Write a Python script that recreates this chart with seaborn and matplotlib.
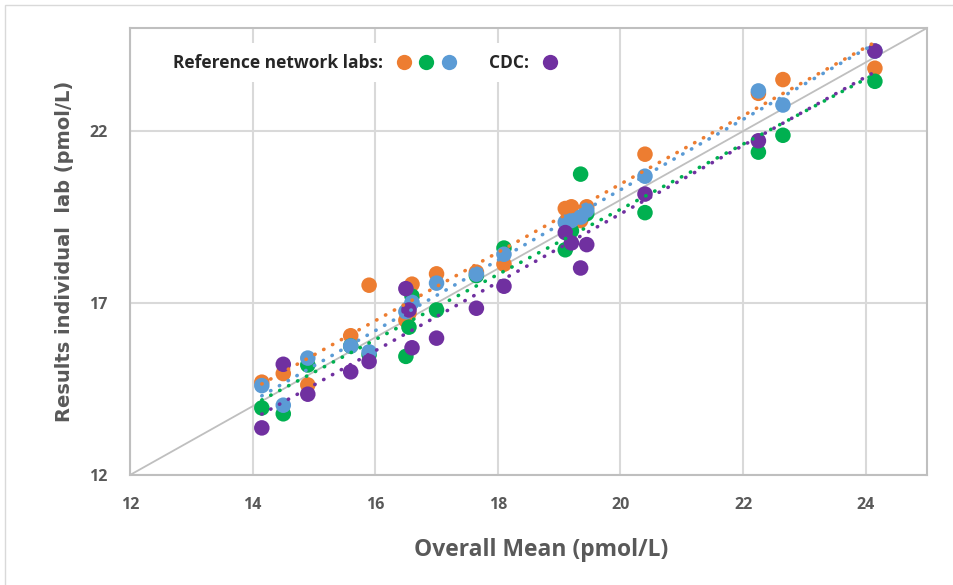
import numpy as np
import pandas as pd
import matplotlib
matplotlib.use("Agg")
import matplotlib.pyplot as plt
import seaborn as sns
from matplotlib.lines import Line2D
from matplotlib.legend_handler import HandlerTuple
from matplotlib.patches import Rectangle

# overall mean of each sample (x) and the individual lab results (y)
overall_mean = [14.15, 14.5, 14.9, 15.6, 15.9, 16.5, 16.55, 16.6, 17.0, 17.65,
                18.1, 19.1, 19.2, 19.35, 19.45, 20.4, 22.25, 22.65, 24.15]
lab_orange = [14.7, 14.95, 14.62, 16.05, 17.52, 16.5, 16.7, 17.55, 17.85, 17.9,
              18.13, 19.75, 19.8, 19.4, 19.8, 21.33, 23.1, 23.5, 23.83]
lab_green = [13.95, 13.78, 15.2, 15.75, 15.5, 15.45, 16.3, 17.2, 16.8, 17.8,
             18.6, 18.55, 19.1, 20.75, 19.6, 19.63, 21.39, 21.88, 23.45]
lab_blue = [14.6, 14.03, 15.4, 15.75, 15.58, 16.75, 16.85, 17.02, 17.58, 17.84,
            18.42, 19.35, 19.4, 19.5, 19.7, 20.69, 23.17, 22.76, 24.33]
lab_cdc = [13.37, 15.22, 14.35, 15.0, 15.3, 17.42, 16.8, 15.7, 15.98, 16.85,
           17.49, 19.05, 18.75, 18.02, 18.7, 20.17, 21.72, np.nan, 24.33]

series = {"orange": lab_orange, "green": lab_green, "blue": lab_blue, "cdc": lab_cdc}
colors = {"orange": "#ED7D31", "green": "#00B050", "blue": "#5B9BD5", "cdc": "#7030A0"}

x_ticks = [12, 14, 16, 18, 20, 22, 24]
y_ticks = [12, 17, 22]

sns.set_style("white")
plt.rcParams["font.family"] = ["Open Sans", "DejaVu Sans"]

fig = plt.figure(figsize=(9.54, 5.85), dpi=100)
ax = fig.add_axes([130 / 954, 1 - 475 / 585, 797 / 954, 447 / 585])

# identity line
ax.plot([12, 25], [12, 25], color="#BFBFBF", lw=1.3, zorder=1)

for name, vals in series.items():
    df = pd.DataFrame({"x": overall_mean, "y": vals})
    sns.scatterplot(data=df, x="x", y="y", color=colors[name], s=125,
                    edgecolor="none", ax=ax, zorder=3)
for name, vals in series.items():
    df = pd.DataFrame({"x": overall_mean, "y": vals})
    sns.regplot(data=df, x="x", y="y", scatter=False, ci=None, ax=ax,
                color=colors[name],
                line_kws={"lw": 2.6, "linestyle": (0, (0.1, 2.7)),
                          "dash_capstyle": "round", "zorder": 4})

ax.set_xlim(12, 25)
ax.set_ylim(12, 25)
ax.set_xticks(x_ticks)
ax.set_yticks(y_ticks)
ax.grid(True, color="#D9D9D9", lw=1.5, zorder=0)
ax.set_axisbelow(True)
for sp in ax.spines.values():
    sp.set_color("#BFBFBF")
    sp.set_linewidth(1.5)
ax.tick_params(length=0, labelsize=11.5, labelcolor="#595959", pad=16)
for lab in ax.get_xticklabels() + ax.get_yticklabels():
    lab.set_fontweight("bold")

ax.set_xlabel("Overall Mean (pmol/L)", fontsize=16.5, fontweight="bold",
              color="#595959")
ax.xaxis.set_label_coords(0.516, -0.142)
ax.set_ylabel("Results individual  lab (pmol/L)", fontsize=14, fontweight="bold",
              color="#595959", family="DejaVu Sans")
ax.yaxis.set_label_coords(-0.07, 0.5)

# legend: text first, then the coloured dots
def dot(c):
    return Line2D([], [], marker="o", ls="none", markersize=11,
                  markerfacecolor=c, markeredgecolor="none")

blank = Line2D([], [], marker="none", ls="none")
handles = [(dot(colors["orange"]), dot(colors["green"]), dot(colors["blue"])),
           (dot(colors["cdc"]), blank, blank)]
leg = ax.legend(handles, ["Reference network labs:", "CDC:"],
                handler_map={tuple: HandlerTuple(ndivide=None, pad=0.3)},
                markerfirst=False, ncol=2, loc="center left",
                bbox_to_anchor=(0.034, 0.922), frameon=True, framealpha=1,
                edgecolor="none", facecolor="white", handlelength=3.6,
                columnspacing=1.84, handletextpad=0.7, borderpad=0.4,
                prop={"weight": "bold", "size": 12.5})
leg.get_frame().set_boxstyle("square", pad=0.2)

fig.patches.append(Rectangle((5 / 954, -0.1), 1.2, 1.1 - 5 / 585,
                             transform=fig.transFigure, fill=False,
                             edgecolor="#D9D9D9", lw=1))

fig.savefig("out.png", dpi=100)
